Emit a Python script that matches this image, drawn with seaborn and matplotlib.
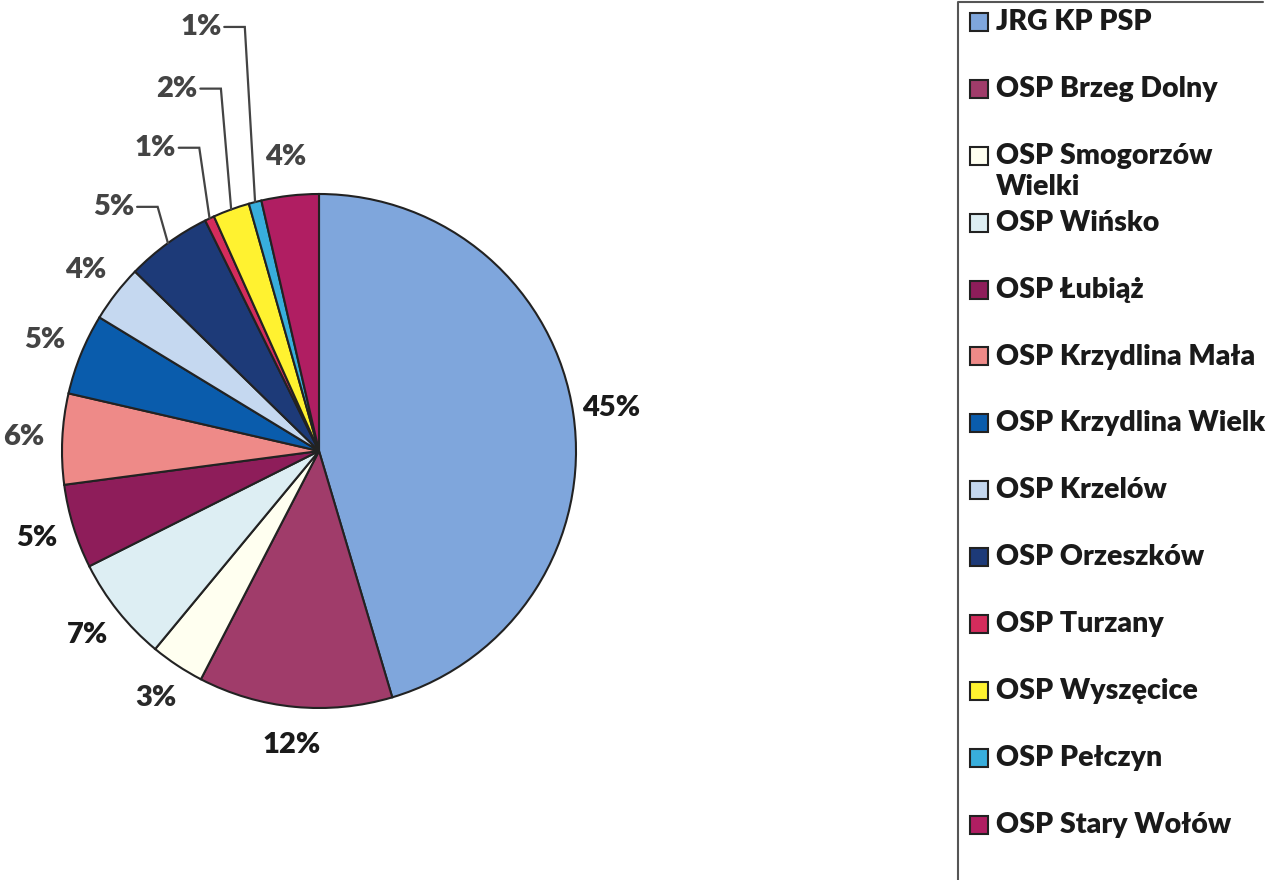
import matplotlib
matplotlib.use("Agg")
import matplotlib.pyplot as plt
from matplotlib.patches import Rectangle
import seaborn as sns
import numpy as np

sns.set_theme(style="white")
plt.rcParams["font.family"] = ["Lato", "DejaVu Sans"]
plt.rcParams["font.weight"] = "bold"

# data
units = ["JRG KP PSP", "OSP Brzeg Dolny", "OSP Smogorzów Wielki", "OSP Wińsko",
         "OSP Łubiąż", "OSP Krzydlina Mała", "OSP Krzydlina Wielk", "OSP Krzelów",
         "OSP Orzeszków", "OSP Turzany", "OSP Wyszęcice", "OSP Pełczyn",
         "OSP Stary Wołów"]
shares = [45.4, 12.2, 3.4, 6.6, 5.3, 5.7, 5.1, 3.6, 5.4, 0.6, 2.3, 0.8, 3.6]
colors = ["#7FA6DC", "#A03C6A", "#FFFFF0", "#DDEEF3", "#8E1D5A", "#EE8A88",
          "#0A5CAC", "#C5D8F0", "#1D3A78", "#D42C5C", "#FFF230", "#38AEDC",
          "#B01E62"]
label_colors = ["#1a1a1a", "#1a1a1a", "#2a2a2a", "#1a1a1a", "#1a1a1a", "#444444",
                "#444444", "#444444", "#444444", "#444444", "#444444", "#444444",
                "#444444"]
legend_text = ["JRG KP PSP", "OSP Brzeg Dolny", "OSP Smogorzów\nWielki", "OSP Wińsko",
               "OSP Łubiąż", "OSP Krzydlina Mała", "OSP Krzydlina Wielk", "OSP Krzelów",
               "OSP Orzeszków", "OSP Turzany", "OSP Wyszęcice", "OSP Pełczyn",
               "OSP Stary Wołów"]

W, H = 1269, 880
cx, cy, R = 319, 451, 257

fig = plt.figure(figsize=(W / 100, H / 100), dpi=100)
ax = fig.add_axes([0, 0, 1, 1])

wedges, _ = ax.pie(shares, colors=colors, startangle=90, counterclock=False,
                   radius=1.0, wedgeprops=dict(edgecolor="#222222", linewidth=1.5))
# pie() resets the limits, so set them afterwards
ax.set_xlim(-cx / R, (W - cx) / R)
ax.set_ylim(-(H - cy) / R, cy / R)
ax.set_aspect("equal")
ax.axis("off")

# labels: small slices get leader lines
leader_idx = [8, 9, 10, 11]
leader_y = [0.95, 1.18, 1.41, 1.65]
for i, w in enumerate(wedges):
    mid = np.deg2rad((w.theta1 + w.theta2) / 2)
    txt = f"{shares[i]:.0f}%"
    if i in leader_idx:
        ly = leader_y[leader_idx.index(i)]
        ex, ey = np.cos(mid), np.sin(mid)
        kx = ex - 0.04
        ax.plot([ex, kx, kx - 0.08], [ey, ly, ly], color="#444444", lw=1.6,
                solid_joinstyle="miter")
        ax.text(kx - 0.09, ly, txt, ha="right", va="center", fontsize=21,
                fontweight="heavy", color=label_colors[i])
    else:
        r = 1.15
        ax.text(r * np.cos(mid), r * np.sin(mid), txt, ha="center", va="center",
                fontsize=21, fontweight="heavy", color=label_colors[i])

# legend box
lax = fig.add_axes([0, 0, 1, 1])
lax.set_xlim(0, W)
lax.set_ylim(H, 0)
lax.axis("off")
lax.plot([958, 958, 1263], [H, 2, 2], color="#555555", lw=1.5)
row0, step = 22, 66.9
for i, lab in enumerate(legend_text):
    y = row0 + i * step
    lax.add_patch(Rectangle((970, y - 9), 18, 18, facecolor=colors[i],
                            edgecolor="#222222", lw=1.5))
    lax.text(996, y - 13, lab, ha="left", va="top", fontsize=20.5,
             fontweight="heavy", color="#1a1a1a", linespacing=1.25)

fig.savefig("out.png", dpi=100)
